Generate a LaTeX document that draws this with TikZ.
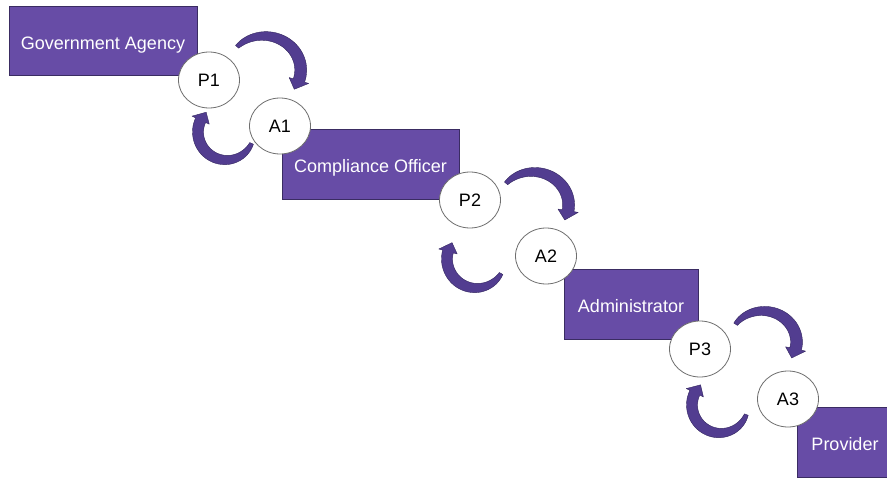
\documentclass[tikz,border=0pt]{standalone}
\usepackage{fontspec}
\setmainfont{Liberation Sans}
\usetikzlibrary{shapes.geometric}
\definecolor{rolefill}{RGB}{103,76,166}
\definecolor{roleedge}{RGB}{58,44,98}
\definecolor{arrowfill}{RGB}{82,61,144}
\definecolor{arrowedge}{RGB}{50,37,94}
\definecolor{stageedge}{RGB}{110,110,110}
\tikzset{
  role/.style={draw=roleedge, line width=0.8pt, fill=rolefill, text=white,
    font=\fontsize{18}{20}\selectfont, inner sep=0pt,
    text height=17pt, text depth=0pt},
  stage/.style={ellipse, draw=stageedge, line width=0.8pt, fill=white,
    minimum width=61, minimum height=56, inner sep=0pt,
    font=\fontsize{18}{20}\selectfont,
    text height=13pt, text depth=0pt},
  % curved, tapered block arrow turning clockwise around the pic origin
  % #1 = centre-line radius, #2 = tail angle, #3 = angle of the head base
  pics/bentarrow/.style args={#1/#2/#3}{code={
    \filldraw[fill=arrowfill, draw=arrowedge, line width=0.4pt, line join=round]
      plot[domain=#2:#3, samples=40] (\x:{#1+hw((\x-(#2))/((#3)-(#2)))})
      -- ({#3}:{#1+9.5}) -- ({#3-560/#1}:{#1}) -- ({#3}:{#1-9.5})
      -- plot[domain=#3:#2, samples=40] (\x:{#1-hw((\x-(#2))/((#3)-(#2)))})
      -- cycle;
  }},
  wide/.style={xscale=1.08}
}
\begin{document}
\begin{tikzpicture}[x=1pt, y=1pt, declare function={hw(\t)=5.5-3.5*(1-\t)^3;}]
\useasboundingbox (0,0) rectangle (887,-477);
\clip (0,0) rectangle (887,-477);

% role boxes
\node[role, minimum width=188, minimum height=69] (gov) at (103,-40.5) {Government Agency};
\node[role, minimum width=177, minimum height=70] (comp) at (370.5,-164) {Compliance Officer};
\node[role, minimum width=134, minimum height=70] (admin) at (631,-304) {Administrator};
\node[role, minimum width=96, minimum height=70] (prov) at (845,-442) {Provider};

% request / answer stages
\node[stage] (p1) at (209,-80) {P1};
\node[stage] (a1) at (280,-126) {A1};
\node[stage] (p2) at (470,-200) {P2};
\node[stage] (a2) at (546,-256) {A2};
\node[stage] (p3) at (700,-349) {P3};
\node[stage] (a3) at (788,-399) {A3};

% turn-taking arrows between each P and A
\pic[wide] at (264,-70) {bentarrow={34/137/-18}};
\pic at (226,-132) {bentarrow={28/-24/-205}};
\pic[wide] at (533,-205) {bentarrow={33/139/-10}};
\pic at (476,-259) {bentarrow={29/-30/-195}};
\pic[wide] at (763,-342) {bentarrow={31/145/-13}};
\pic at (720,-405) {bentarrow={28/-20/-206}};
\end{tikzpicture}
\end{document}
